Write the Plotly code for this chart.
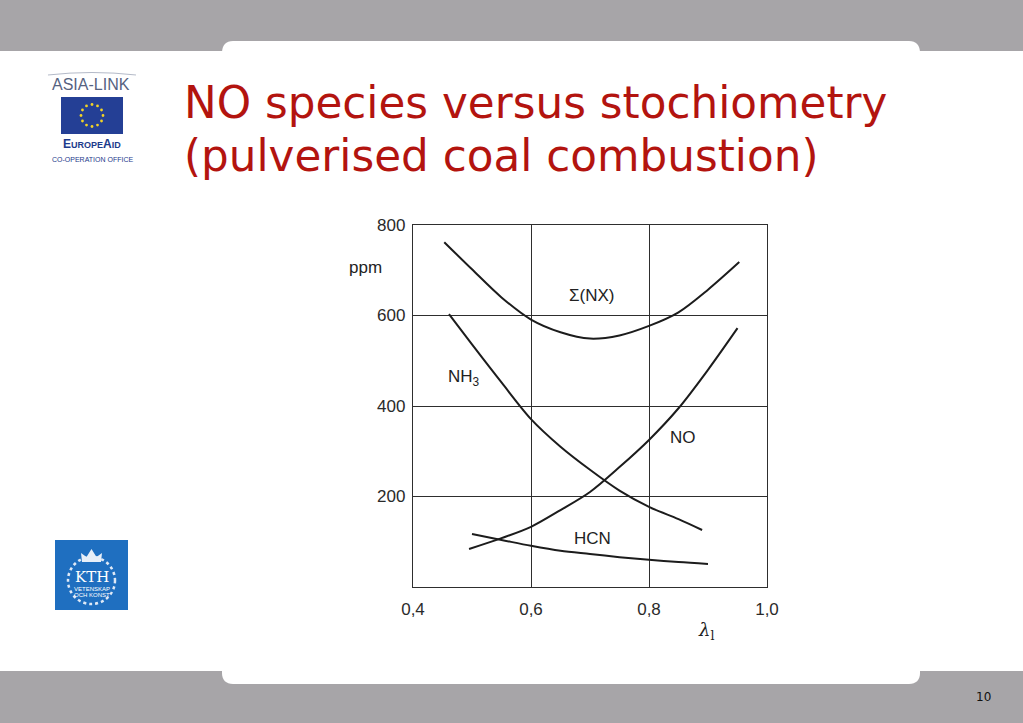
import math
import plotly.graph_objects as go

# ---------------- data ----------------
x_nx = [0.453, 0.5, 0.55, 0.6, 0.65, 0.7, 0.75, 0.8, 0.85, 0.9, 0.953]
nx = [762, 702, 640, 591, 563, 549, 556, 577, 607, 657, 718]

x_nh3 = [0.461, 0.5, 0.55, 0.6, 0.65, 0.7, 0.75, 0.8, 0.85, 0.89]
nh3 = [603, 536, 452, 371, 310, 259, 213, 177, 150, 126]

x_no = [0.495, 0.55, 0.6, 0.65, 0.7, 0.75, 0.8, 0.85, 0.9, 0.95]
no = [84, 108, 133, 170, 210, 265, 325, 395, 480, 572]

x_hcn = [0.5, 0.55, 0.6, 0.65, 0.7, 0.75, 0.8, 0.85, 0.9]
hcn = [117, 104, 91, 80, 73, 66, 60, 55, 51]

x_tickvals = [0.4, 0.6, 0.8, 1.0]
x_ticktext = ["0,4", "0,6", "0,8", "1,0"]
y_tickvals = [200, 400, 600, 800]
y_ticktext = ["200", "400", "600", "800"]

curve_labels = ["Σ(NX)", "NH<sub>3</sub>", "NO", "HCN"]
label_x = [0.703, 0.486, 0.858, 0.705]
label_y = [645, 462, 331, 108]

title_lines = ["NO species versus stochiometry", "(pulverised coal combustion)"]

# ---------------- page geometry helpers ----------------
W, H = 1023, 723


def px(x):
    return x / W


def py(y):
    return 1 - y / H


def path(cmds):
    out = []
    for c in cmds:
        if isinstance(c, str):
            out.append(c)
        else:
            out.append(f"{px(c[0]):.5f},{py(c[1]):.5f}")
    return " ".join(out)


INK = "#1c1c1c"
GRID = "#2e2e2e"
RED = "#B3140F"
GRAY = "#A7A5A8"

fig = go.Figure()

for xs, ys in [(x_nx, nx), (x_nh3, nh3), (x_no, no), (x_hcn, hcn)]:
    fig.add_trace(go.Scatter(
        x=xs, y=ys, mode="lines",
        line=dict(color=INK, width=2, shape="spline", smoothing=0.9),
        hoverinfo="skip", showlegend=False,
    ))

shapes = []
# top gray bar and white tab
shapes.append(dict(type="rect", xref="paper", yref="paper", x0=0, x1=1,
                   y0=py(51), y1=1, fillcolor=GRAY, line=dict(width=0), layer="below"))
shapes.append(dict(type="path", xref="paper", yref="paper", layer="below",
                   fillcolor="white", line=dict(width=0),
                   path=path(["M", (222, 53), "C", (222, 45), (226, 41), (233, 41),
                              "L", (909, 41), "C", (916, 41), (920, 45), (920, 53), "Z"])))
# bottom gray bar and white tab
shapes.append(dict(type="rect", xref="paper", yref="paper", x0=0, x1=1,
                   y0=0, y1=py(671), fillcolor=GRAY, line=dict(width=0), layer="below"))
shapes.append(dict(type="path", xref="paper", yref="paper", layer="below",
                   fillcolor="white", line=dict(width=0),
                   path=path(["M", (222, 669), "L", (920, 669), "L", (920, 673),
                              "C", (920, 680), (916, 684), (909, 684),
                              "L", (233, 684), "C", (226, 684), (222, 680), (222, 673), "Z"])))

# EU flag logo
shapes.append(dict(type="rect", xref="paper", yref="paper", x0=px(61), x1=px(123),
                   y0=py(134), y1=py(97), fillcolor="#243F95", line=dict(width=0)))
cx, cy, r = 92, 115.5, 11
for i in range(12):
    a = 2 * math.pi * i / 12
    sx, sy = cx + r * math.cos(a), cy + r * math.sin(a)
    shapes.append(dict(type="circle", xref="paper", yref="paper",
                       x0=px(sx - 1.4), x1=px(sx + 1.4), y0=py(sy + 1.4), y1=py(sy - 1.4),
                       fillcolor="#F2D325", line=dict(width=0)))
# arc above ASIA-LINK
shapes.append(dict(type="path", xref="paper", yref="paper",
                   line=dict(color="#b4bac8", width=1),
                   path=path(["M", (48, 75), "Q", (92, 70), (136, 75)])))

# KTH logo
shapes.append(dict(type="rect", xref="paper", yref="paper", x0=px(55), x1=px(128),
                   y0=py(610), y1=py(540), fillcolor="#1F6FC0", line=dict(width=0)))
shapes.append(dict(type="circle", xref="paper", yref="paper", x0=px(68), x1=px(115),
                   y0=py(604), y1=py(557), fillcolor="rgba(0,0,0,0)",
                   line=dict(color="#dfe9f6", width=2.5, dash="dot")))
shapes.append(dict(type="path", xref="paper", yref="paper", fillcolor="#e8eff8",
                   line=dict(width=0),
                   path=path(["M", (82, 562), "L", (81, 553), "L", (86.5, 557), "L", (91.5, 549),
                              "L", (96.5, 557), "L", (102, 553), "L", (101, 562), "Z"])))

annotations = []
for t, yy in zip(title_lines, [103, 155]):
    annotations.append(dict(text=t, xref="paper", yref="paper", x=px(182), y=py(yy),
                            xanchor="left", yanchor="middle", showarrow=False,
                            font=dict(family="DejaVu Sans", size=43.7, color=RED)))

for t, xx, yy in zip(curve_labels, label_x, label_y):
    annotations.append(dict(text=t, x=xx, y=yy, xref="x", yref="y", showarrow=False,
                            xanchor="center", yanchor="middle",
                            font=dict(family="Liberation Sans", size=17, color="#222")))

annotations.append(dict(text="ppm", xref="paper", yref="y", x=px(384), y=705,
                        xanchor="right", yanchor="middle", showarrow=False,
                        font=dict(family="Liberation Sans", size=17, color="#222")))
annotations.append(dict(text="<i>λ</i><sub>l</sub>", xref="paper", yref="paper",
                        x=px(706), y=py(631), xanchor="center", yanchor="middle", showarrow=False,
                        font=dict(family="DejaVu Serif", size=18, color="#222")))


# logo texts
def ann(text, x, y, size, color, family="Liberation Sans"):
    annotations.append(dict(text=text, xref="paper", yref="paper", x=px(x), y=py(y),
                            xanchor="center", yanchor="middle", showarrow=False,
                            font=dict(family=family, size=size, color=color)))


ann("ASIA-LINK", 91, 84, 16, "#56627f")
ann("<b>E<span style='font-size:9px'>UROPE</span>A<span style='font-size:9px'>ID</span></b>",
    92, 144, 12, "#1d3b8c")
ann("CO-OPERATION OFFICE", 92, 159, 7, "#1d3b8c")
ann("KTH", 91.5, 577, 15, "white", "DejaVu Serif")
ann("VETENSKAP", 91.5, 589, 6, "white")
ann("OCH KONST", 91.5, 595, 6, "white")
ann("10", 983, 697, 12, "#111", "DejaVu Sans")

fig.update_layout(
    width=W, height=H, autosize=False,
    margin=dict(l=0, r=0, t=0, b=0, pad=0, autoexpand=False),
    paper_bgcolor="white", plot_bgcolor="white",
    showlegend=False,
    shapes=shapes, annotations=annotations,
    xaxis=dict(domain=[px(413), px(767)], range=[0.4, 1.0],
               tickvals=x_tickvals, ticktext=x_ticktext, ticks="",
               showgrid=True, gridcolor=GRID, gridwidth=1.2, zeroline=False,
               showline=True, linecolor=GRID, linewidth=1.4, mirror=True,
               ticklabelstandoff=6, automargin=False,
               tickfont=dict(family="Liberation Sans", size=17, color="#2a2a2a"),
               fixedrange=True),
    yaxis=dict(domain=[py(587), py(225)], range=[0, 800],
               tickvals=y_tickvals, ticktext=y_ticktext, ticks="",
               showgrid=True, gridcolor=GRID, gridwidth=1.2, zeroline=False,
               showline=True, linecolor=GRID, linewidth=1.4, mirror=True,
               ticklabelstandoff=3, automargin=False,
               tickfont=dict(family="Liberation Sans", size=17, color="#2a2a2a"),
               fixedrange=True),
)

fig.write_html("out.html", config=dict(displayModeBar=False),
               post_script="document.body.style.margin='0';document.body.style.overflow='hidden';")
